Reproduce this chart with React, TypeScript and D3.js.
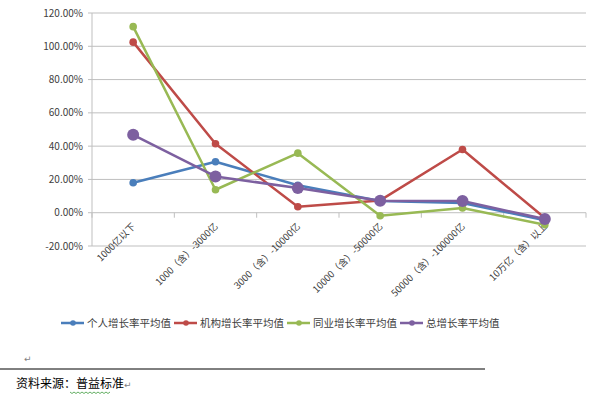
import React, { useRef, useEffect } from 'react'
import * as d3 from 'd3'

const categories = ['1000亿以下', '1000（含）-3000亿', '3000（含）-10000亿', '10000（含）-50000亿', '50000（含）-100000亿', '10万亿（含）以上']
const personal = [18.0, 30.6, 16.5, 7.0, 5.8, -4.5]
const institution = [102.5, 41.4, 3.6, 7.4, 38.0, -3.2]
const peer = [111.8, 13.8, 35.8, -1.8, 2.8, -7.2]
const total = [46.8, 21.8, 14.8, 7.2, 7.0, -3.8]
const seriesNames = ['个人增长率平均值', '机构增长率平均值', '同业增长率平均值', '总增长率平均值']
const yTicks = [-20, 0, 20, 40, 60, 80, 100, 120]

const colors = ['#4A7EBB', '#BE4B48', '#98B954', '#7D60A0']
const font = '"Noto Sans CJK SC", "DejaVu Sans", sans-serif'

const App = () => {
  const svgRef = useRef<SVGSVGElement>(null)

  useEffect(() => {
    const svg = d3.select(svgRef.current)
    svg.selectAll('*').remove()

    const left = 92, right = 586, top = 13, bottom = 246

    const x = d3.scaleBand().domain(categories).range([left, right])
    const y = d3.scaleLinear().domain([-20, 120]).range([bottom, top])

    // gridlines
    svg.append('g').selectAll('line')
      .data(yTicks)
      .join('line')
      .attr('x1', left).attr('x2', right)
      .attr('y1', d => y(d)).attr('y2', d => y(d))
      .attr('stroke', '#BFBFBF').attr('stroke-width', 1)

    // left axis
    svg.append('line')
      .attr('x1', left).attr('x2', left).attr('y1', top).attr('y2', bottom)
      .attr('stroke', '#BFBFBF')

    svg.append('g').selectAll('line')
      .data(yTicks)
      .join('line')
      .attr('x1', left - 4).attr('x2', left)
      .attr('y1', d => y(d)).attr('y2', d => y(d))
      .attr('stroke', '#BFBFBF')

    svg.append('g').selectAll('text')
      .data(yTicks)
      .join('text')
      .attr('x', left - 9)
      .attr('y', d => y(d) + 3.5)
      .attr('text-anchor', 'end')
      .attr('font-size', 10)
      .attr('font-family', font)
      .attr('fill', '#404040')
      .text(d => d.toFixed(2) + '%')

    // category ticks on zero line
    const boundaries = categories.map(c => x(c)!).concat([right])
    svg.append('g').selectAll('line')
      .data(boundaries)
      .join('line')
      .attr('x1', d => d).attr('x2', d => d)
      .attr('y1', y(0)).attr('y2', y(0) + 5)
      .attr('stroke', '#BFBFBF')

    svg.append('g').selectAll('text')
      .data(categories)
      .join('text')
      .attr('transform', d => `translate(${x(d)! + x.bandwidth() / 2 + 3},${bottom - 19}) rotate(-45)`)
      .attr('text-anchor', 'end')
      .attr('font-size', 9.5)
      .attr('font-family', font)
      .attr('fill', '#404040')
      .text(d => d)

    const series = [personal, institution, peer, total]
    const line = d3.line<number>()
      .x((d, i) => x(categories[i])! + x.bandwidth() / 2)
      .y(d => y(d))

    series.forEach((s, k) => {
      svg.append('path')
        .attr('d', line(s))
        .attr('fill', 'none')
        .attr('stroke', colors[k])
        .attr('stroke-width', 2.5)
        .attr('stroke-linejoin', 'round')
      svg.append('g').selectAll('circle')
        .data(s)
        .join('circle')
        .attr('cx', (d, i) => x(categories[i])! + x.bandwidth() / 2)
        .attr('cy', d => y(d))
        .attr('r', k === 3 ? 6 : 3.8)
        .attr('fill', colors[k])
    })

    // legend
    const legendX = [61, 174, 287, 400]
    const legendY = 323
    seriesNames.forEach((name, k) => {
      const g = svg.append('g')
      g.append('line')
        .attr('x1', legendX[k]).attr('x2', legendX[k] + 23)
        .attr('y1', legendY).attr('y2', legendY)
        .attr('stroke', colors[k]).attr('stroke-width', 2.5)
      g.append('circle')
        .attr('cx', legendX[k] + 12).attr('cy', legendY).attr('r', 2.8)
        .attr('fill', colors[k])
      g.append('text')
        .attr('x', legendX[k] + 26).attr('y', legendY + 4)
        .attr('font-size', 10.5)
        .attr('font-family', font)
        .attr('fill', '#404040')
        .text(name)
    })

    // document marks
    svg.append('text')
      .attr('x', 24).attr('y', 362)
      .attr('font-size', 9).attr('fill', '#7F7F7F')
      .attr('font-family', font)
      .text('↵')

    svg.append('line')
      .attr('x1', 0).attr('x2', 485).attr('y1', 369).attr('y2', 369)
      .attr('stroke', '#000').attr('stroke-width', 1)

    const src = svg.append('text')
      .attr('x', 16).attr('y', 388)
      .attr('font-size', 12)
      .attr('font-family', font)
      .attr('fill', '#000')
    src.append('tspan').text('资料来源：普益标准')
    src.append('tspan').attr('font-size', 9).attr('fill', '#7F7F7F').text('↵')

    // wavy underline
    const wave = d3.range(70, 112, 2).map((px, i) => [px, 392 + (i % 2 === 0 ? 0 : 1.5)] as [number, number])
    svg.append('path')
      .attr('d', d3.line()(wave))
      .attr('fill', 'none')
      .attr('stroke', '#3C9A3C')
      .attr('stroke-width', 0.8)
  }, [])

  return (
    <svg
      ref={svgRef}
      width={593}
      height={398}
      style={{ position: 'absolute', left: 0, top: 0, background: '#fff' }}
    />
  )
}

export default App
